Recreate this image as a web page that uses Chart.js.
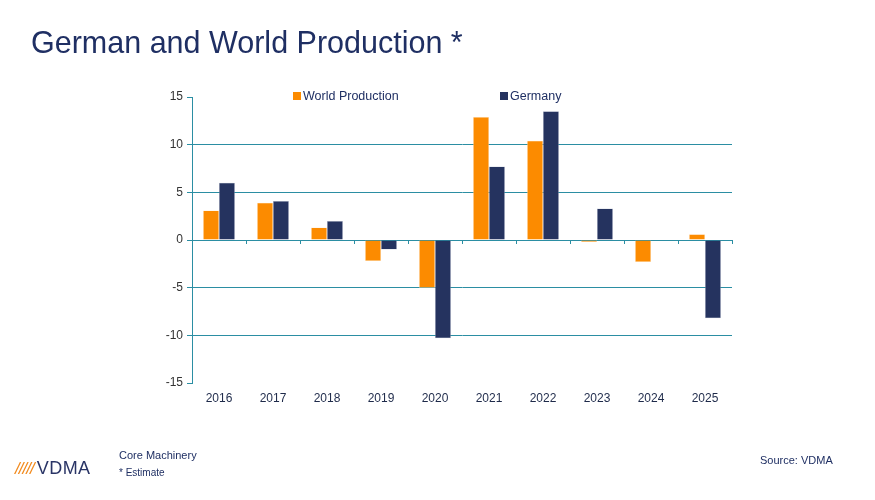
<!DOCTYPE html>
<html>
<head>
<meta charset="utf-8">
<script src="https://cdn.jsdelivr.net/npm/chart.js@4/dist/chart.umd.min.js"></script>
<style>
  body { margin: 0; background: #fff; font-family: "Liberation Sans", Arial, sans-serif; }
  #wrap { position: relative; width: 875px; height: 500px; overflow: hidden; }
  #myChart { position: absolute; left: 0; top: 0; }
  .titulo { position: absolute; left: 31px; top: 25px; font-size: 30.5px; color: #1f2f63; white-space: nowrap; }
  .legenda { position: absolute; top: 89px; font-size: 12.5px; color: #1f2f63; white-space: nowrap; }
  .legenda span.caixa { display: inline-block; width: 8px; height: 8px; margin-right: 2px; vertical-align: 0px; }
  .rodape { position: absolute; font-size: 11px; color: #1f2f63; white-space: nowrap; }
  .logo { position: absolute; left: 15px; top: 458px; white-space: nowrap; }
  .logo .traco { color: #f28a1c; font-size: 17px; font-style: italic; letter-spacing: -1px; }
  .logo .nome { color: #2a3566; font-size: 18px; font-weight: 300; letter-spacing: 0.5px; margin-left: 3px; }
</style>
</head>
<body>
<div id="wrap">
  <canvas id="myChart" width="875" height="500"></canvas>
  <div class="titulo">German and World Production *</div>
  <div id="legenda"></div>
  <div class="rodape" style="left:119px; top:449px;">Core Machinery</div>
  <div class="rodape" style="left:119px; top:467px; font-size:10px;">* Estimate</div>
  <div class="rodape" style="left:760px; top:454px;">Source: VDMA</div>
  <div class="logo"><span class="traco">/////</span><span class="nome">VDMA</span></div>
</div>
<script>
  // Dados
  const anos = ['2016', '2017', '2018', '2019', '2020', '2021', '2022', '2023', '2024', '2025'];
  const producaoMundial = [3.1, 3.9, 1.3, -2.2, -5.0, 12.9, 10.4, -0.2, -2.3, 0.6];
  const producaoAlemanha = [6.0, 4.1, 2.0, -1.0, -10.3, 7.7, 13.5, 3.3, 0.0, -8.2];
  const valoresEixoY = [15, 10, 5, 0, -5, -10, -15];

  const corLaranja = '#fc8b00';
  const corAzul = '#25335f';
  const corGrade = '#2b8ea3';

  // Legenda em HTML (posições fixas como no original)
  const itensLegenda = [
    { texto: 'World Production', cor: corLaranja, x: 293 },
    { texto: 'Germany', cor: corAzul, x: 500 }
  ];
  const legendaDiv = document.getElementById('legenda');
  itensLegenda.forEach(item => {
    const el = document.createElement('div');
    el.className = 'legenda';
    el.style.left = item.x + 'px';
    el.innerHTML = `<span class="caixa" style="background:${item.cor}"></span>${item.texto}`;
    legendaDiv.appendChild(el);
  });

  // Pequenos traços na linha do zero entre as categorias
  const tracosZero = {
    id: 'tracosZero',
    afterDatasetsDraw(chart) {
      const { ctx, scales } = chart;
      const x = scales.x, y = scales.y;
      const y0 = y.getPixelForValue(0);
      const passo = (x.right - x.left) / anos.length;
      ctx.save();
      ctx.strokeStyle = corGrade;
      ctx.lineWidth = 1;
      for (let i = 1; i <= anos.length; i++) {
        const px = Math.round(x.left + passo * i) + 0.5;
        ctx.beginPath();
        ctx.moveTo(px, y0);
        ctx.lineTo(px, y0 + 4);
        ctx.stroke();
      }
      ctx.restore();
    }
  };

  const ctx = document.getElementById('myChart').getContext('2d');
  new Chart(ctx, {
    type: 'bar',
    data: {
      labels: anos,
      datasets: [
        {
          label: 'World Production',
          data: producaoMundial,
          backgroundColor: corLaranja,
          borderColor: '#ffe3c0',
          borderWidth: 0.5,
          categoryPercentage: 0.59,
          barPercentage: 1
        },
        {
          label: 'Germany',
          data: producaoAlemanha,
          backgroundColor: corAzul,
          borderColor: '#b9bfd0',
          borderWidth: 0.5,
          categoryPercentage: 0.59,
          barPercentage: 1
        }
      ]
    },
    options: {
      responsive: false,
      animation: false,
      layout: { padding: { left: 150, right: 143, top: 97, bottom: 87 } },
      plugins: {
        legend: { display: false },
        tooltip: { enabled: false }
      },
      scales: {
        x: {
          grid: { display: false, drawTicks: false },
          border: { display: false },
          ticks: { color: '#1e2a4a', font: { family: 'Liberation Sans', size: 12 }, padding: 8 },
          afterFit: scale => { scale.height = 30; }
        },
        y: {
          min: -15,
          max: 15,
          afterBuildTicks: scale => { scale.ticks = valoresEixoY.map(v => ({ value: v })); },
          afterFit: scale => { scale.width = 42; },
          border: { display: true, color: corGrade, width: 1 },
          grid: {
            color: c => (Math.abs(c.tick.value) === 15 ? 'rgba(0,0,0,0)' : corGrade),
            tickColor: corGrade,
            tickLength: 5,
            lineWidth: 1
          },
          ticks: { color: '#333', font: { family: 'Liberation Sans', size: 12 }, padding: 4 }
        }
      }
    },
    plugins: [tracosZero]
  });
</script>
</body>
</html>
